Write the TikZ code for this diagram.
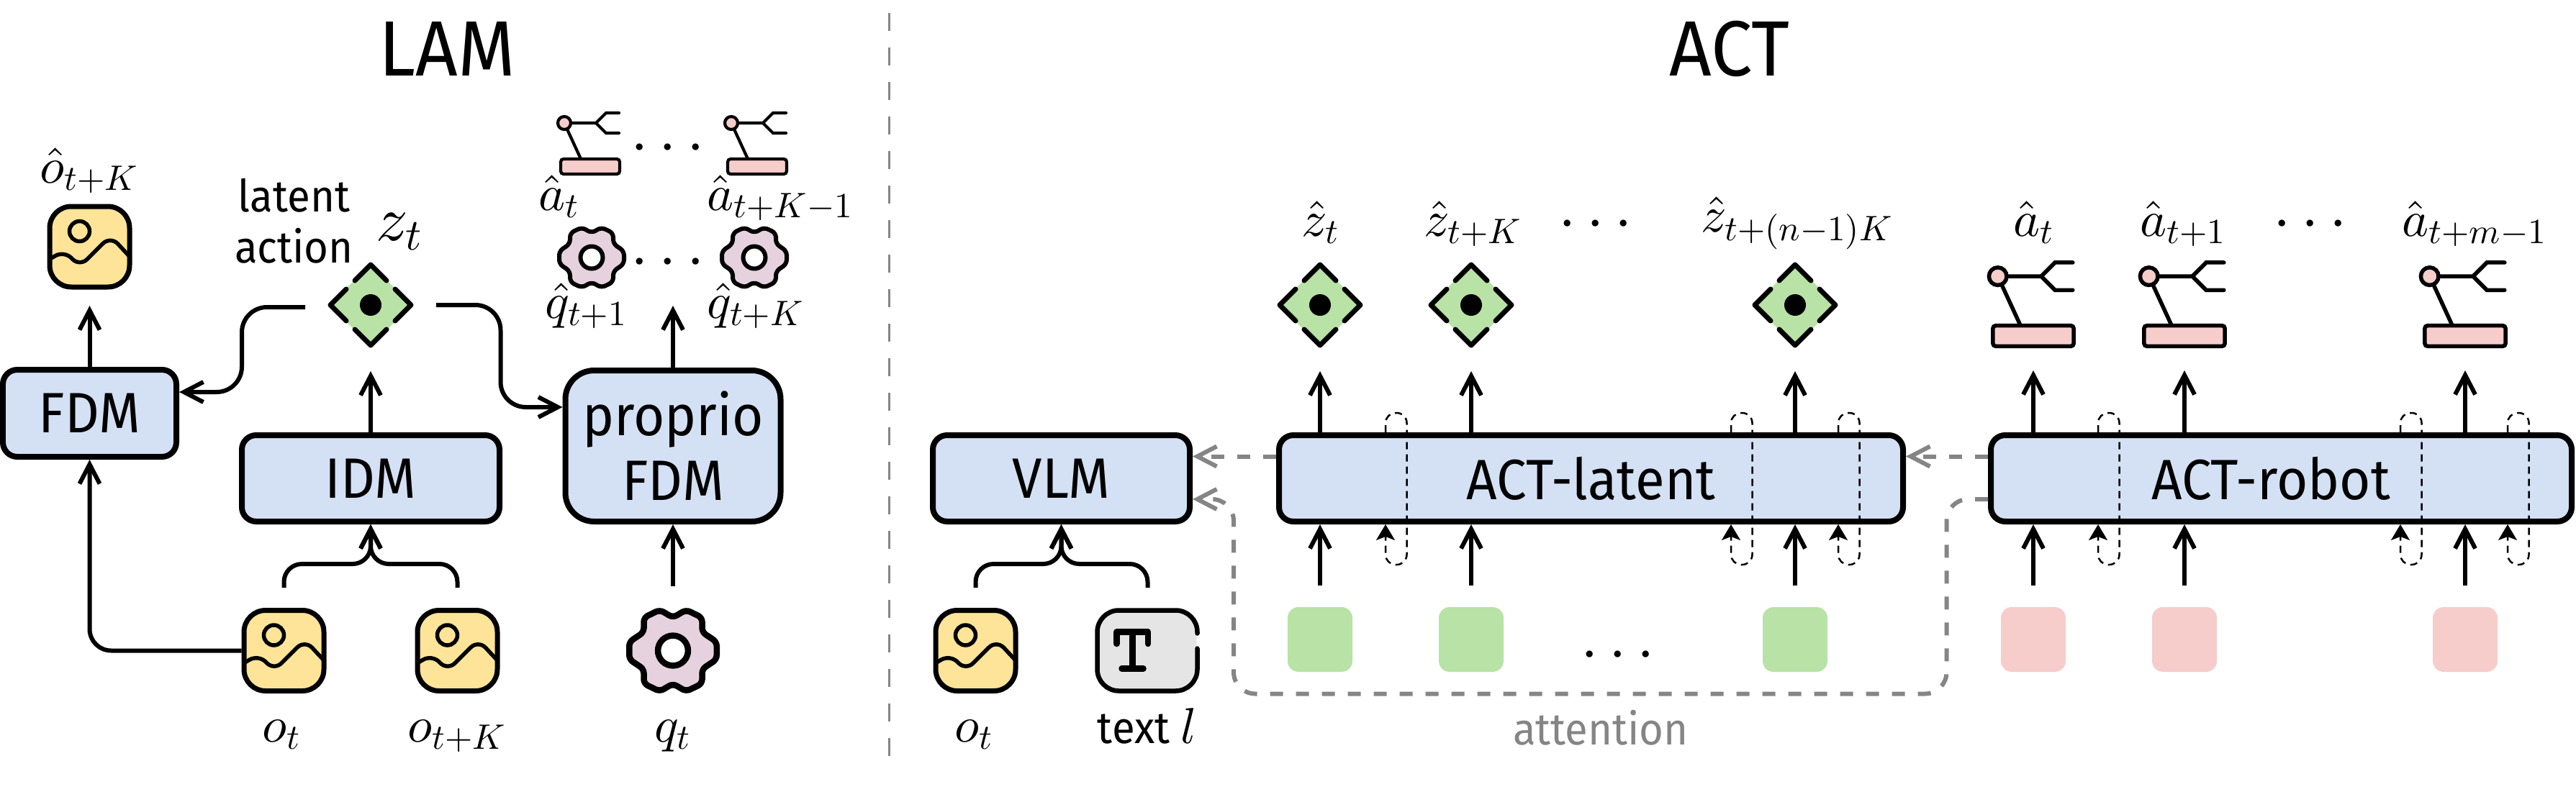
\documentclass[tikz,border=0pt]{standalone}
\usepackage{amsmath}
\usepackage[no-math]{fontspec}
\setmainfont{Fira Sans}[FakeStretch=.94]
\usetikzlibrary{arrows.meta}

% math set from the 10pt designs at every size
\DeclareFontShape{OML}{cmm}{m}{it}{<->cmmi10}{}
\DeclareFontShape{OMS}{cmsy}{m}{n}{<->cmsy10}{}
\DeclareFontShape{OT1}{cmr}{m}{n}{<->cmr10}{}

\definecolor{boxblue}{HTML}{D4E1F4}
\definecolor{imgyellow}{HTML}{FEE498}
\definecolor{gearpurple}{HTML}{E6D2DF}
\definecolor{robotpink}{HTML}{F6CDCB}
\definecolor{latentgreen}{HTML}{B9E2A6}
\definecolor{textgrey}{HTML}{E5E5E5}
\definecolor{attngrey}{HTML}{858585}

\newcommand{\mathfont}{\fontsize{20}{24}\selectfont}
\newcommand{\dotsfont}{\fontsize{25}{30}\selectfont}

\tikzset{
  modelbox/.style={draw,fill=boxblue,line width=.8mm,rounded corners=2mm,inner sep=0,
    minimum height=1.2cm,align=center},
  boxtext/.style={font=\fontsize{22.5}{25.6}\selectfont,inner sep=0},
  token/.style={minimum size=.9cm,rounded corners=1.5mm,inner sep=0},
  mathlab/.style={font=\mathfont,anchor=base west,inner sep=0},
  mathmid/.style={font=\mathfont,anchor=base,inner sep=0},
  dotslab/.style={font=\dotsfont,anchor=base,inner sep=0},
  flow/.style={line width=.6mm,-{Straight Barb[length=2.7mm,width=2.8mm]}},
  attn/.style={attngrey,line width=.6mm,dash pattern=on 1.8mm off 1.8mm,
    -{Straight Barb[length=2.7mm,width=2.8mm]}},
  selfloop/.style={line width=.25mm,dash pattern=on 1mm off .7mm,rounded corners=1.4mm,
    -{Stealth[length=2.2mm,width=2.6mm,inset=.5mm]}},
  smallrobot/.style={line width=.42mm},
  bigrobot/.style={scale=1.37,line width=.55mm},
  smallgear/.style={line width=.6mm},
  biggear/.style={scale=1.35,line width=.85mm},
  imageicon/.pic={
    \draw[fill=imgyellow,rounded corners=3mm,line width=.7mm] (-.555,-.56) rectangle (.555,.56);
    \draw[line width=.55mm] (-.14,.215) circle (.14);
    \draw[line width=.55mm,rounded corners=1.5mm] (-.55,-.17) -- (-.35,-.05) -- (-.14,-.28) -- (.29,.15) -- (.55,-.13);
    \coordinate (-top) at (0,.875);
    \coordinate (-left) at (-.59,0);
    \coordinate (-low) at (0,-.82);
  },
  texticon/.pic={
    \fill[textgrey,rounded corners=3mm] (-.70,-.56) rectangle (.68,.56);
    \draw[line width=.65mm,rounded corners=3mm,line cap=round] (.69,.24) -- (.69,.56) -- (-.70,.56) -- (-.70,-.56) -- (.69,-.56) -- (.69,.03);
    \draw[line width=.85mm,line cap=round,line join=round] (-.43,.095) -- (-.43,.26) -- (.005,.26) -- (.005,.095);
    \draw[line width=.85mm,line cap=round] (-.21,.26) -- (-.21,-.25);
    \draw[line width=.85mm,line cap=round] (-.36,-.25) -- (-.06,-.25);
    \coordinate (-top) at (0,.875);
  },
  latent/.pic={
    \fill[latentgreen] (0,.57) -- (.57,0) -- (0,-.57) -- (-.57,0) -- cycle;
    \draw[line width=.7mm,line cap=round,line join=round] (-.22,.34) -- (0,.56) -- (.22,.34);
    \draw[line width=.7mm,line cap=round,line join=round] (-.22,-.34) -- (0,-.56) -- (.22,-.34);
    \draw[line width=.7mm,line cap=round,line join=round] (.34,.22) -- (.56,0) -- (.34,-.22);
    \draw[line width=.7mm,line cap=round,line join=round] (-.34,.22) -- (-.56,0) -- (-.34,-.22);
    \fill (0,0) circle (.15);
    \coordinate (-west) at (-.91,-.03);
    \coordinate (-east) at (.91,0);
    \coordinate (-low) at (0,-.92);
  },
  robot/.pic={
    \draw[line cap=round] (.40,.745) -- (.22,.745) -- (.08,.605) -- (.22,.465) -- (.40,.465);
    \draw (.08,.605) -- (-.36,.605) -- (-.13,.105);
    \draw[fill=robotpink] (-.36,.605) circle (.09);
    \draw[fill=robotpink,rounded corners=.4mm] (-.41,-.105) rectangle (.41,.105);
    \coordinate (-low) at (0,-.35);
  },
  gear/.pic={
    \draw[fill=gearpurple,rounded corners=.6mm] (0,.34) -- (.135,.42) -- (.30,.34) -- (.30,.19)
      -- (.45,.09) -- (.45,-.09) -- (.30,-.19) -- (.30,-.34) -- (.135,-.42) -- (0,-.34)
      -- (-.135,-.42) -- (-.30,-.34) -- (-.30,-.19) -- (-.45,-.09) -- (-.45,.09)
      -- (-.30,.19) -- (-.30,.34) -- (-.135,.42) -- cycle;
    \draw[fill=white] (0,0) circle (.155);
  }
}

\begin{document}
\begin{tikzpicture}[font=\fontsize{22.5}{25.6}\selectfont]
\useasboundingbox (0,0) rectangle (35.79,11.07);

% titles and divider
\node[font=\fontsize{31}{36}\selectfont,anchor=base,inner sep=0] (lamtitle) at (6.21,10.02) {LAM};
\node[font=\fontsize{31}{36}\selectfont,anchor=base,inner sep=0] (acttitle) at (24.03,10.02) {ACT};
\draw[attngrey,line width=.3mm,dash pattern=on 2.5mm off 2.3mm] (12.35,10.89) -- (12.35,.5);

% LAM boxes
\node[modelbox,minimum width=2.41cm,minimum height=1.21cm] (fdm) at (1.245,5.325) {FDM};
\node[modelbox,minimum width=3.58cm] (idm) at (5.15,4.42) {IDM};
\node[modelbox,minimum width=2.99cm,minimum height=2.1cm,rounded corners=4mm] (proprio) at (9.35,4.87) {proprio\\FDM};

% LAM inputs
\pic (ot) at (3.945,2.025) {imageicon};
\pic (otk) at (6.355,2.025) {imageicon};
\pic[biggear] (qt) at (9.35,2.025) {gear};
\coordinate (qtout) at (9.35,2.92);
\node[mathmid] (otlab) at (3.915,.76) {$o_t$};
\node[mathmid] (otklab) at (6.35,.76) {$o_{t+K}$};
\node[mathmid] (qtlab) at (9.35,.76) {$q_t$};

% LAM outputs
\pic (ohat) at (1.245,7.64) {imageicon};
\node[mathlab] (ohatlab) at (.55,8.53) {$\hat{o}_{t+K}$};
\pic (zlam) at (5.15,6.83) {latent};
\node[font=\fontsize{17.6}{20.2}\selectfont,align=center,inner sep=0] (latentlab) at (4.085,8.0) {latent\\action};
\node[font=\dotsfont,anchor=base west,inner sep=0] (zlamlab) at (5.22,7.73) {$z_t$};
\pic[smallrobot] at (8.20,8.755) {robot};
\pic[smallrobot] at (10.52,8.755) {robot};
\node[dotslab] (robotdots) at (9.35,8.81) {$\cdots$};
\node[mathlab] (atlab) at (7.48,8.15) {$\hat{a}_t$};
\node[mathlab] (atklab) at (9.82,8.15) {$\hat{a}_{t+K-1}$};
\pic[smallgear] at (8.22,7.49) {gear};
\pic[smallgear] at (10.48,7.49) {gear};
\node[dotslab] (geardots) at (9.35,7.22) {$\cdots$};
\node[mathlab] (qhatlab) at (7.57,6.65) {$\hat{q}_{t+1}$};
\node[mathlab] (qhatklab) at (9.82,6.65) {$\hat{q}_{t+K}$};
\coordinate (proprioout) at (9.35,6.82);

% LAM arrows
\draw[flow] (fdm.north) -- (ohat-low);
\draw[flow] (idm.north) -- (zlam-low);
\draw[flow] (proprio.north) -- (proprioout);
\draw[flow] (qtout) -- (proprio.south);
\draw[flow,rounded corners=3.5mm] (zlam-west) -- (3.36,6.80) -- (3.36,5.62) -- (3.36,5.62 -| fdm.east);
\draw[flow,rounded corners=3.5mm] (zlam-east) -- (6.955,6.83) -- (6.955,5.41) -- (6.955,5.41 -| proprio.west);
\draw[flow,rounded corners=3mm] (ot-left) -- (ot-left -| fdm.south) -- (fdm.south);
\draw[flow,rounded corners=2.5mm] (ot-top) -- ++(0,.33) -| (idm.south);
\draw[flow,rounded corners=2.5mm] (otk-top) -- ++(0,.33) -| (idm.south);

% ACT boxes
\node[modelbox,minimum width=3.57cm] (vlm) at (14.745,4.42) {VLM};
\node[modelbox,minimum width=8.67cm] (actlatent) at (22.105,4.42) {ACT-latent};
\node[modelbox,minimum width=8.07cm] (actrobot) at (31.695,4.42) {};
\node[boxtext] (actrobotlab) at (31.55,4.42) {ACT-robot};

% VLM inputs
\pic (vlmot) at (13.555,2.025) {imageicon};
\pic (vlmtext) at (15.945,2.025) {texticon};
\node[mathmid] (vlmotlab) at (13.53,.76) {$o_t$};
\node[font=\fontsize{17.6}{20}\selectfont,anchor=base,inner sep=0] (vlmtextlab) at (15.94,.74) {text \mathfont$l$};
\draw[flow,rounded corners=2.5mm] (vlmot-top) -- ++(0,.33) -| (vlm.south);
\draw[flow,rounded corners=2.5mm] (vlmtext-top) -- ++(0,.33) -| (vlm.south);

% ACT tokens
\foreach \tokname/\tokx/\tokfill in {za/18.34/latentgreen,zb/20.44/latentgreen,zc/24.94/latentgreen,
    ra/28.25/robotpink,rb/30.35/robotpink,rc/34.25/robotpink}{
  \node[token,fill=\tokfill] (tok\tokname) at (\tokx,2.18) {};
}
\foreach \tokname in {za,zb,zc}{
  \draw[flow,shorten <=2.9mm] (tok\tokname.north) -- (tok\tokname.north |- actlatent.south);
}
\foreach \tokname in {ra,rb,rc}{
  \draw[flow,shorten <=2.9mm] (tok\tokname.north) -- (tok\tokname.north |- actrobot.south);
}
\node[dotslab] (tokdots) at (22.55,1.76) {$\cdots$};

% ACT outputs
\pic (zhata) at (18.34,6.83) {latent};
\pic (zhatb) at (20.44,6.83) {latent};
\pic (zhatc) at (24.94,6.83) {latent};
\pic[bigrobot] (ahata) at (28.25,6.40) {robot};
\pic[bigrobot] (ahatb) at (30.35,6.40) {robot};
\pic[bigrobot] (ahatc) at (34.25,6.40) {robot};
\foreach \outname in {zhata,zhatb,zhatc}{
  \draw[flow] (actlatent.north -| \outname-low) -- (\outname-low);
}
\foreach \outname in {ahata,ahatb,ahatc}{
  \draw[flow] (actrobot.north -| \outname-low) -- (\outname-low);
}
\node[mathlab] (zhatalab) at (18.08,7.79) {$\hat{z}_t$};
\node[mathlab] (zhatblab) at (19.78,7.79) {$\hat{z}_{t+K}$};
\node[dotslab] (zdots) at (22.24,7.75) {$\cdots$};
\node[mathlab] (zhatclab) at (23.63,7.85) {$\hat{z}_{t+(n-1)K}$};
\node[mathlab] (ahatalab) at (27.97,7.79) {$\hat{a}_t$};
\node[mathlab] (ahatblab) at (29.73,7.79) {$\hat{a}_{t+1}$};
\node[dotslab] (adots) at (32.17,7.75) {$\cdots$};
\node[mathlab] (ahatclab) at (33.37,7.79) {$\hat{a}_{t+m-1}$};

% dashed loops through the boxes
\foreach \loopx in {19.25,24.05,25.54}{
  \draw[selfloop] (\loopx,0 |- actlatent.north) -- ++(0,.27) -- ++(.295,0) -- ++(0,-2.11) -- ++(-.295,0) -- (\loopx,0 |- actlatent.south);
}
\foreach \loopx in {29.15,33.35,34.84}{
  \draw[selfloop] (\loopx,0 |- actrobot.north) -- ++(0,.27) -- ++(.295,0) -- ++(0,-2.11) -- ++(-.295,0) -- (\loopx,0 |- actrobot.south);
}

% attention
\draw[attn] (0,4.725 -| actlatent.west) -- (0,4.725 -| vlm.east);
\draw[attn] (0,4.725 -| actrobot.west) -- (0,4.725 -| actlatent.east);
\draw[attn,rounded corners=3mm] (0,4.13 -| actrobot.west) -- (27.045,4.13) -- (27.045,1.425) -- (17.14,1.425) -- (17.14,4.13) -- (0,4.13 -| vlm.east);
\node[font=\fontsize{17.6}{20}\selectfont,text=attngrey,anchor=base,inner sep=0] (attnlab) at (22.24,.72) {attention};

\end{tikzpicture}
\end{document}
